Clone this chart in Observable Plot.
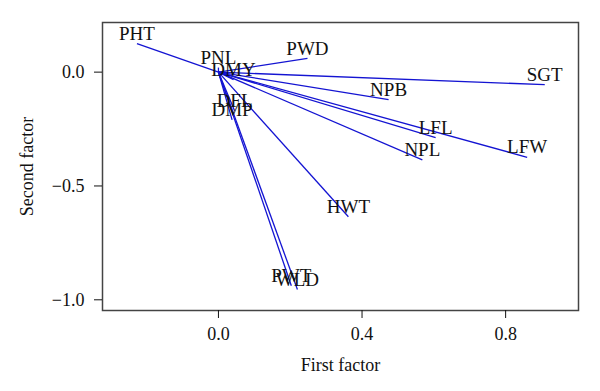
<!DOCTYPE html>
<html>
<head>
<meta charset="utf-8">
<script src="https://cdn.jsdelivr.net/npm/d3@7"></script>
<script src="https://cdn.jsdelivr.net/npm/@observablehq/plot@0.6"></script>
<style>
  html, body { margin: 0; padding: 0; background: #fff; }
  #chart svg { display: block; }
</style>
</head>
<body>
<div id="chart"></div>
<script>
const variables = ["PHT","PNL","PWD","DMY","SGT","NPB","DFL","DMP","LFL","NPL","LFW","HWT","PWT","WLD"];
const firstFactor  = [-0.227, 0.0, 0.248, 0.042, 0.909, 0.474, 0.045, 0.038, 0.605, 0.568, 0.86, 0.362, 0.203, 0.22];
const secondFactor = [0.125, 0.02, 0.06, -0.033, -0.055, -0.121, -0.17, -0.21, -0.288, -0.385, -0.374, -0.635, -0.938, -0.955];
const xTicks = [0, 0.4, 0.8];
const yTicks = [0, -0.5, -1.0];

const data = variables.map((v, i) => ({name: v, x: firstFactor[i], y: secondFactor[i]}));
const fmt = d3.format(".1f");
const font = "'Liberation Serif', 'DejaVu Serif', serif";

const chart = Plot.plot({
  width: 600,
  height: 391,
  marginLeft: 102,
  marginRight: 22,
  marginTop: 22,
  marginBottom: 81,
  style: {fontFamily: font, fontSize: "18px", color: "#111", background: "#fff"},
  x: {domain: [-0.323, 1.003], label: null},
  y: {domain: [-1.047, 0.218], label: null},
  marks: [
    Plot.link(data, {x1: 0, y1: 0, x2: "x", y2: "y", stroke: "#1414d2", strokeWidth: 1.3}),
    Plot.text(data, {x: "x", y: "y", text: "name", dy: -10, fontSize: 19, fill: "#111"}),
    Plot.frame({stroke: "#444", strokeWidth: 1.5}),
    Plot.axisX({ticks: xTicks, tickFormat: fmt, tickSize: 8, tickPadding: 9, fontSize: 18,
      label: "First factor", labelAnchor: "center", labelArrow: "none", labelOffset: 60}),
    Plot.axisY({ticks: yTicks, tickFormat: fmt, tickSize: 8, tickPadding: 10, fontSize: 18,
      label: "Second factor", labelAnchor: "center", labelArrow: "none", labelOffset: 82})
  ]
});
document.getElementById("chart").appendChild(chart);
</script>
</body>
</html>
